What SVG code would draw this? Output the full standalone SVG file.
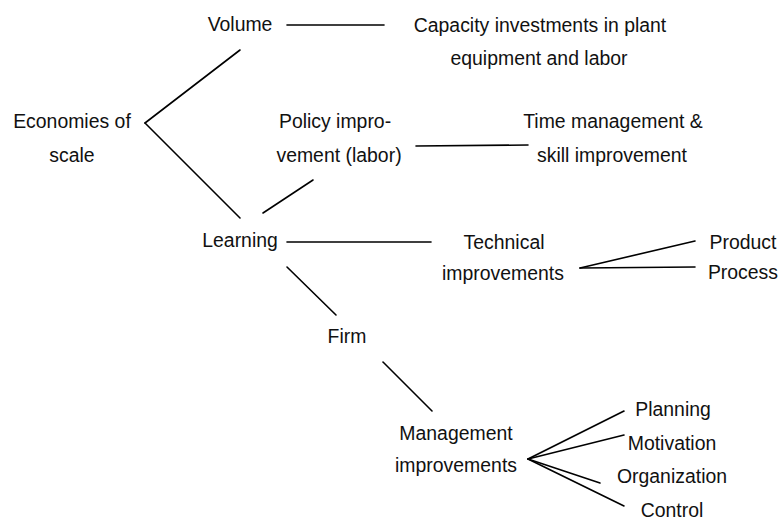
<svg xmlns="http://www.w3.org/2000/svg" width="779" height="521" viewBox="0 0 779 521">
<style>
text{font-family:"Liberation Sans",Arial,sans-serif;font-size:21px;fill:#111;text-anchor:middle}
line{stroke:#000;stroke-width:1.6;stroke-linecap:round}
</style>
<rect width="779" height="521" fill="#fff"/>
<g id="connectors">
<line x1="287" y1="25" x2="384" y2="25"/>
<line x1="145" y1="123" x2="240" y2="50"/>
<line x1="145" y1="123" x2="240" y2="218"/>
<line x1="313" y1="180" x2="263" y2="213"/>
<line x1="416" y1="146" x2="528" y2="145"/>
<line x1="287" y1="242" x2="431" y2="242"/>
<line x1="580" y1="268" x2="695" y2="241"/>
<line x1="580" y1="268" x2="695" y2="267"/>
<line x1="287" y1="267" x2="336" y2="315"/>
<line x1="383" y1="362" x2="432" y2="411"/>
<line x1="528" y1="459" x2="624" y2="411"/>
<line x1="528" y1="459" x2="624" y2="435"/>
<line x1="528" y1="459" x2="600" y2="483"/>
<line x1="528" y1="459" x2="624" y2="506"/>
</g>
<g id="volume" transform="scale(0.925 1)"><text x="259.5" y="31">Volume</text></g>
<g id="capacity" transform="scale(0.925 1)"><text x="583.8" y="32">Capacity investments in plant</text><text x="582.7" y="65">equipment and labor</text></g>
<g id="economies" transform="scale(0.925 1)"><text x="77.8" y="128">Economies of</text><text x="77.8" y="162">scale</text></g>
<g id="policy" transform="scale(0.925 1)"><text x="362.2" y="128">Policy impro-</text><text x="366.5" y="162">vement (labor)</text></g>
<g id="time" transform="scale(0.925 1)"><text x="662.7" y="128">Time management &amp;</text><text x="661.6" y="162">skill improvement</text></g>
<g id="learning" transform="scale(0.925 1)"><text x="259.5" y="247">Learning</text></g>
<g id="technical" transform="scale(0.925 1)"><text x="544.9" y="249">Technical</text><text x="543.8" y="280">improvements</text></g>
<g id="product" transform="scale(0.925 1)"><text x="803.2" y="249">Product</text></g>
<g id="process" transform="scale(0.925 1)"><text x="803.2" y="279">Process</text></g>
<g id="firm" transform="scale(0.925 1)"><text x="375.1" y="343">Firm</text></g>
<g id="management" transform="scale(0.925 1)"><text x="493" y="440">Management</text><text x="493" y="472">improvements</text></g>
<g id="planning" transform="scale(0.925 1)"><text x="727.6" y="416">Planning</text></g>
<g id="motivation" transform="scale(0.925 1)"><text x="726.5" y="450">Motivation</text></g>
<g id="organization" transform="scale(0.925 1)"><text x="726.5" y="483">Organization</text></g>
<g id="control" transform="scale(0.925 1)"><text x="726.5" y="517">Control</text></g>
</svg>
